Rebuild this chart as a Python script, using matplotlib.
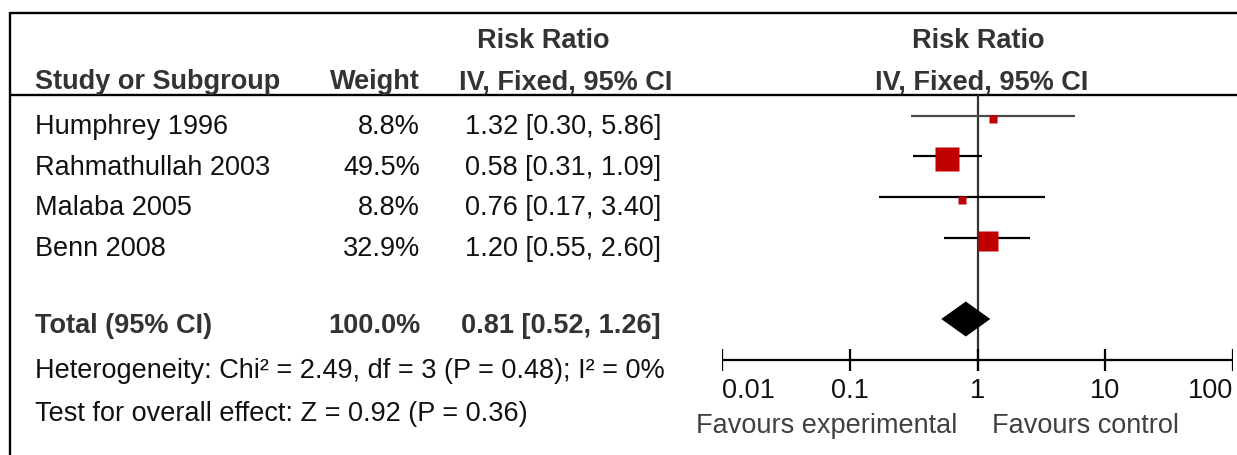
import matplotlib
matplotlib.use("Agg")
import matplotlib.pyplot as plt
import numpy as np

# ---------------- data ----------------
studies = ["Humphrey 1996", "Rahmathullah 2003", "Malaba 2005", "Benn 2008"]
weights = [8.8, 49.5, 8.8, 32.9]
rr = [1.32, 0.58, 0.76, 1.20]
ci_low = [0.30, 0.31, 0.17, 0.55]
ci_high = [5.86, 1.09, 3.40, 2.60]
total_label = "Total (95% CI)"
total_weight = 100.0
total_rr = 0.81
total_low = 0.52
total_high = 1.26
heterogeneity = "Heterogeneity: Chi\u00b2 = 2.49, df = 3 (P = 0.48); I\u00b2 = 0%"
overall = "Test for overall effect: Z = 0.92 (P = 0.36)"
ticks = [0.01, 0.1, 1, 10, 100]
tick_labels = ["0.01", "0.1", "1", "10", "100"]
favours = ["Favours experimental", "Favours control"]
col_headers = ["Study or Subgroup", "Weight", "IV, Fixed, 95% CI"]
effect_header = "Risk Ratio"

# ---------------- layout ----------------
W, H = 1237, 456
plt.rcParams['font.family'] = ['Liberation Sans', 'DejaVu Sans']
FS = 19.5
BODY = "#111111"
HEAD = "#333333"

fig = plt.figure(figsize=(W / 100, H / 100), dpi=100)
bg = fig.add_axes([0, 0, 1, 1])
bg.set_xlim(0, W)
bg.set_ylim(H, 0)
bg.axis('off')

# frame lines
bg.plot([9.5, W + 5], [14, 14], color="black", lw=1.7, solid_capstyle='butt')
bg.plot([9.5, 9.5], [13.2, H + 5], color="black", lw=1.7, solid_capstyle='butt')
bg.plot([9.5, W + 5], [96, 96], color="black", lw=1.7, solid_capstyle='butt')

# headers
hk = dict(fontsize=FS, fontweight='bold', color=HEAD, va='baseline')
bg.text(543.5, 48, effect_header, ha='center', **hk)
bg.text(978.5, 48, effect_header, ha='center', **hk)
bg.text(35, 89, col_headers[0], ha='left', **hk)
bg.text(420, 89, col_headers[1], ha='right', **hk)
bg.text(566, 89, col_headers[2], ha='center', **hk)
bg.text(982, 89, col_headers[2], ha='center', **hk)

# forest axes (log scale)
x0, x1 = 722.3, 1232.7
ax = fig.add_axes([x0 / W, 0, (x1 - x0) / W, 1])
ax.set_xscale('log')
ax.set_xlim(ticks[0], ticks[-1])
ax.set_ylim(H, 0)
ax.axis('off')
ax.patch.set_alpha(0)

row_y = [116.5, 157.2, 197.9, 238.6]
bk = dict(fontsize=FS, color=BODY, va='baseline')
for i, name in enumerate(studies):
    y = row_y[i]
    tb = y + 17.5
    bg.text(35, tb, name, ha='left', **bk)
    bg.text(420, tb, f"{weights[i]:.1f}%", ha='right', **bk)
    bg.text(661, tb, f"{rr[i]:.2f} [{ci_low[i]:.2f}, {ci_high[i]:.2f}]", ha='right', **bk)
    lc = "#4a4a4a" if i == 0 else "black"
    ax.plot([ci_low[i], ci_high[i]], [y, y], color=lc, lw=1.6, solid_capstyle='butt', zorder=3)
    side = -3.2 + 3.93 * np.sqrt(weights[i])  # px
    ax.plot([rr[i]], [y + 3], marker='s', ms=side * 0.72, mec='none', mfc="#C00000",
            ls='none', zorder=4)

# total row
ty = 320
tk = dict(fontsize=FS, fontweight='bold', color=HEAD, va='baseline')
bg.text(35, 333, total_label, ha='left', **tk)
bg.text(420, 333, f"{total_weight:.1f}%", ha='right', **tk)
bg.text(661, 333, f"{total_rr:.2f} [{total_low:.2f}, {total_high:.2f}]", ha='right', **tk)
dh = 17.5
ax.fill([total_low, total_rr, total_high, total_rr], [ty, ty - dh, ty, ty + dh],
        color="black", lw=0, zorder=5)

bg.text(35, 378, heterogeneity, ha='left', **bk)
bg.text(35, 421.5, overall, ha='left', **bk)

# line of no effect
ax.plot([1, 1], [96, 372], color="#333333", lw=1.6, solid_capstyle='butt', zorder=2)

# axis
ay = 360.7
ax.plot([ticks[0], ticks[-1]], [ay, ay], color="black", lw=1.6, solid_capstyle='butt', zorder=2)
for t in ticks:
    ax.plot([t, t], [350, 372], color="black", lw=1.6, solid_capstyle='butt', zorder=2)
for j, (t, lab) in enumerate(zip(ticks, tick_labels)):
    ha = 'left' if j == 0 else ('right' if j == len(ticks) - 1 else 'center')
    ax.text(t, 398, lab, ha=ha, va='baseline', fontsize=FS, color=BODY, clip_on=False)

bg.text(957, 433, favours[0], ha='right', va='baseline', fontsize=FS, color="#404040")
bg.text(992, 433, favours[1], ha='left', va='baseline', fontsize=FS, color="#404040")

fig.savefig("out.png", dpi=100, facecolor="white")
